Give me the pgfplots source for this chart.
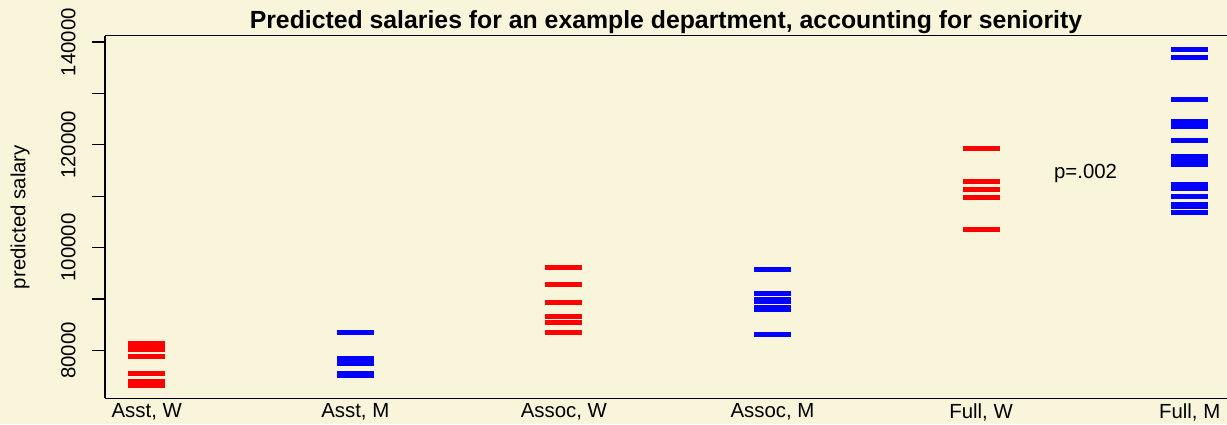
\documentclass[border=0pt]{standalone}
\usepackage{fontspec}
\setmainfont{Liberation Sans}
\usepackage{pgfplots}
\pgfplotsset{compat=1.18}
\definecolor{bgcol}{RGB}{249,245,219}
\begin{document}
\begin{tikzpicture}
\fill[bgcol] (-52.5pt,-12.85pt) rectangle (561pt,199.15pt);
\begin{axis}[
  scale only axis,
  width=561pt, height=181.3pt,
  xmin=-0.2, xmax=5.179,
  ymin=70670, ymax=141230,
  axis x line=box, axis y line=left,
  y axis line style={-},
  axis line style={line width=0.6pt, black},
  xtick={0,1,2,3,4,5},
  xticklabels={{Asst, W},{Asst, M},{Assoc, W},{Assoc, M},{Full, W},{Full, M}},
  xtick style={draw=none},
  xticklabel style={anchor=north, inner sep=0pt, yshift=-2.5pt, font=\fontsize{10.2}{12}\selectfont},
  scaled y ticks=false,
  ytick={80000,90000,100000,110000,120000,130000,140000},
  yticklabels={80000,,100000,,120000,,140000},
  ytick align=outside,
  major tick length=6.5pt,
  ytick style={line width=0.6pt, black},
  yticklabel style={xshift=-8pt, rotate=90, anchor=south, inner sep=0pt, font=\fontsize{10.2}{12}\selectfont},
  /pgf/number format/assume math mode=true,
  ylabel={predicted salary},
  every axis y label/.style={at={(rel axis cs:0,0.5)}, xshift=-37.5pt, rotate=90, anchor=south, inner sep=0pt, font=\fontsize{10.2}{12}\selectfont},
  title={Predicted salaries for an example department, accounting for seniority},
  every axis title/.style={at={(rel axis cs:0.5,1)}, anchor=base, yshift=3.5pt, inner sep=0pt, font=\fontsize{12.4}{14}\selectfont\bfseries},
  clip=false,
]
\addplot[only marks, mark=-, mark size=9.25pt, color=red, mark options={line width=2.5pt, solid}] coordinates {
  (0,81325) (0,80760) (0,80214) (0,78792) (0,75480) (0,73922) (0,73143)
  (2,96130) (2,92818) (2,89311) (2,86584) (2,85415) (2,83467)
  (4,119310) (4,112883) (4,111324) (4,109766) (4,103533)
};
\addplot[only marks, mark=-, mark size=9.25pt, color=blue, mark options={line width=2.5pt, solid}] coordinates {
  (1,83467) (1,78461) (1,77487) (1,75480) (1,75090)
  (3,95740) (3,91065) (3,89896) (3,89506) (3,88338) (3,87948) (3,83078)
  (5,138597) (5,137038) (5,128857) (5,124571) (5,124084) (5,123597) (5,120870)
  (5,117752) (5,116973) (5,116194) (5,112298) (5,111519) (5,109961) (5,108402) (5,108012) (5,106843)
};
\node[anchor=base, inner sep=0pt, font=\fontsize{10.2}{12}\selectfont] at (axis cs:4.501,113470) {p=.002};
\end{axis}
\pgfresetboundingbox
\path[use as bounding box] (-52.5pt,-12.85pt) rectangle (561pt,199.15pt);
\end{tikzpicture}
\end{document}
